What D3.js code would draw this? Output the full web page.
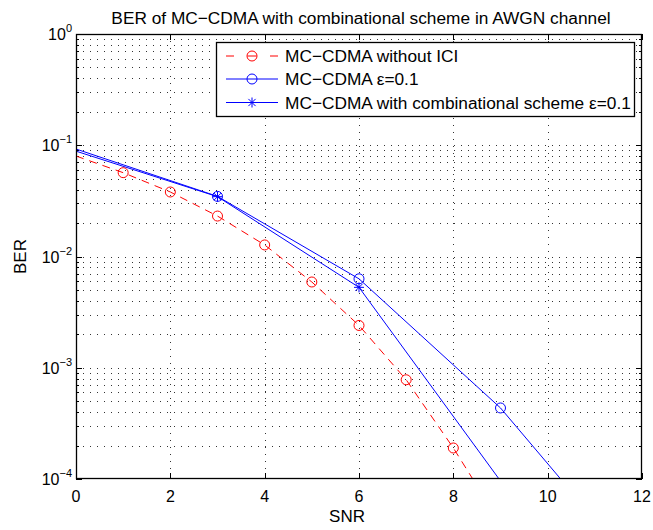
<!DOCTYPE html>
<html>
<head>
<meta charset="utf-8">
<script src="https://cdn.jsdelivr.net/npm/d3@7"></script>
<style>
  html, body { margin: 0; padding: 0; background: #fff; }
  svg { display: block; }
  text { font-family: "Liberation Sans", Arial, Helvetica, sans-serif; fill: #000; }
</style>
</head>
<body>
<svg id="chart" width="653" height="530"></svg>
<script>
// ---- data ----
const titleText = "BER of MC\u2212CDMA with combinational scheme in AWGN channel";
const xLabel = "SNR";
const yLabel = "BER";
const xTicks = [0, 2, 4, 6, 8, 10, 12];
const yDecades = [-4, -3, -2, -1, 0];

const snrNoICI = [0, 1, 2, 3, 4, 5, 6, 7, 8, 9];
const berNoICI = [0.080, 0.0567, 0.038, 0.0231, 0.0127, 0.0059, 0.0024, 0.00078, 0.00019, 0.00004];

const snrEps = [0, 3, 6, 9, 12];
const berEps = [0.0925, 0.0347, 0.0063, 0.000435, 0.0000137];

const snrComb = [0, 3, 6, 9];
const berComb = [0.0885, 0.0345, 0.00528, 0.000096];

const seriesNames = [
  "MC\u2212CDMA without ICI",
  "MC\u2212CDMA \u03b5=0.1",
  "MC\u2212CDMA with combinational scheme \u03b5=0.1"
];

// ---- layout ----
const svg = d3.select("#chart");
const L = 76, R = 642, T = 34, B = 479;

const x = d3.scaleLinear().domain([0, 12]).range([L, R]);
const y = d3.scaleLog().domain([1e-4, 1]).range([B, T]);

const series = [
  { name: seriesNames[0], xs: snrNoICI, ys: berNoICI, color: "#ff0000", dash: "8,6", marker: "circle" },
  { name: seriesNames[1], xs: snrEps, ys: berEps, color: "#0000ff", dash: null, marker: "circle" },
  { name: seriesNames[2], xs: snrComb, ys: berComb, color: "#0000ff", dash: null, marker: "star" }
];

// clip
svg.append("defs").append("clipPath").attr("id", "clip")
  .append("rect").attr("x", L).attr("y", T).attr("width", R - L).attr("height", B - T);

// background
svg.append("rect").attr("x", L).attr("y", T).attr("width", R - L).attr("height", B - T).attr("fill", "#fff");

// grid
const grid = svg.append("g").attr("stroke", "#333").attr("stroke-width", 1)
  .attr("stroke-dasharray", "1,6").attr("shape-rendering", "crispEdges");
xTicks.filter(t => t > 0 && t < 12).forEach(t => {
  grid.append("line").attr("x1", Math.round(x(t)) + 0.5).attr("x2", Math.round(x(t)) + 0.5)
    .attr("y1", T).attr("y2", B);
});
const minorVals = [];
yDecades.slice(0, -1).forEach(d => {
  for (let m = 1; m <= 9; m++) minorVals.push(m * Math.pow(10, d));
});
minorVals.filter(v => v > 1e-4).forEach(v => {
  grid.append("line").attr("y1", Math.round(y(v)) + 0.5).attr("y2", Math.round(y(v)) + 0.5)
    .attr("x1", L).attr("x2", R);
});

// axes ticks (inside, all four sides)
const ticks = svg.append("g").attr("stroke", "#000").attr("stroke-width", 1).attr("shape-rendering", "crispEdges");
xTicks.forEach(t => {
  const px = Math.round(x(t)) + 0.5;
  ticks.append("line").attr("x1", px).attr("x2", px).attr("y1", B).attr("y2", B - 6);
  ticks.append("line").attr("x1", px).attr("x2", px).attr("y1", T).attr("y2", T + 6);
});
minorVals.concat([1]).forEach(v => {
  const isMajor = Math.abs(Math.log10(v) - Math.round(Math.log10(v))) < 1e-9;
  const len = isMajor ? 6 : 3;
  const py = Math.round(y(v)) + 0.5;
  ticks.append("line").attr("x1", L).attr("x2", L + len).attr("y1", py).attr("y2", py);
  ticks.append("line").attr("x1", R).attr("x2", R - len).attr("y1", py).attr("y2", py);
});

// x tick labels
svg.append("g").selectAll("text").data(xTicks).join("text")
  .attr("x", d => x(d)).attr("y", B + 22.5)
  .attr("text-anchor", "middle").attr("font-size", 16).text(d => d);

// y tick labels 10^n
const yl = svg.append("g");
yDecades.forEach(d => {
  const t = yl.append("text").attr("x", L - 4).attr("y", y(Math.pow(10, d)) + 6)
    .attr("text-anchor", "end").attr("font-size", 16);
  t.append("tspan").text("10");
  t.append("tspan").attr("dy", -8).attr("font-size", 11).text(d === 0 ? "0" : "\u2212" + Math.abs(d));
});

// axis labels
svg.append("text").attr("x", (L + R) / 2 - 12).attr("y", 522).attr("text-anchor", "middle")
  .attr("font-size", 17).text(xLabel);
svg.append("text").attr("transform", `translate(26, ${(T + B) / 2}) rotate(-90)`)
  .attr("text-anchor", "middle").attr("font-size", 17).text(yLabel);

// title
svg.append("text").attr("x", (L + R) / 2 + 2).attr("y", 24).attr("text-anchor", "middle")
  .attr("font-size", 17.3).text(titleText);

// data lines
const plot = svg.append("g").attr("clip-path", "url(#clip)");
const line = d3.line().x(d => x(d[0])).y(d => y(d[1]));

function drawMarker(g, type, cx, cy, color) {
  if (type === "circle") {
    g.append("circle").attr("cx", cx).attr("cy", cy).attr("r", 5)
      .attr("fill", "none").attr("stroke", color).attr("stroke-width", 1);
  } else {
    const s = 5, s2 = 3.6;
    const p = `M${cx - s},${cy}L${cx + s},${cy}M${cx},${cy - s}L${cx},${cy + s}` +
      `M${cx - s2},${cy - s2}L${cx + s2},${cy + s2}M${cx - s2},${cy + s2}L${cx + s2},${cy - s2}`;
    g.append("path").attr("d", p).attr("stroke", color).attr("stroke-width", 1).attr("fill", "none");
  }
}

series.forEach(s => {
  const pts = s.xs.map((v, i) => [v, s.ys[i]]);
  plot.append("path").attr("d", line(pts)).attr("fill", "none")
    .attr("stroke", s.color).attr("stroke-width", 1)
    .attr("stroke-dasharray", s.dash);
});
const mk = svg.append("g");
series.forEach(s => {
  s.xs.forEach((v, i) => {
    if (v > 0 && s.ys[i] >= 1e-4) drawMarker(mk, s.marker, x(v), y(s.ys[i]), s.color);
  });
});

// frame
svg.append("rect").attr("x", L + 0.5).attr("y", T + 0.5).attr("width", R - L - 1).attr("height", B - T - 1)
  .attr("fill", "none").attr("stroke", "#000").attr("stroke-width", 1.3);

// legend
const lg = svg.append("g");
lg.append("rect").attr("x", 216.5).attr("y", 42.5).attr("width", 418).attr("height", 74)
  .attr("fill", "#fff").attr("stroke", "#000").attr("stroke-width", 1.3);
const rowsY = [56, 79, 102.5];
series.forEach((s, i) => {
  const yy = rowsY[i];
  lg.append("line").attr("x1", 226).attr("x2", 278).attr("y1", yy).attr("y2", yy)
    .attr("stroke", s.color).attr("stroke-width", 1).attr("stroke-dasharray", s.dash ? "8,13.5,9,13.5" : null);
  drawMarker(lg, s.marker, 252, yy, s.color);
  lg.append("text").attr("x", 285).attr("y", yy + 6).attr("font-size", 17.3).text(s.name);
});
</script>
</body>
</html>
